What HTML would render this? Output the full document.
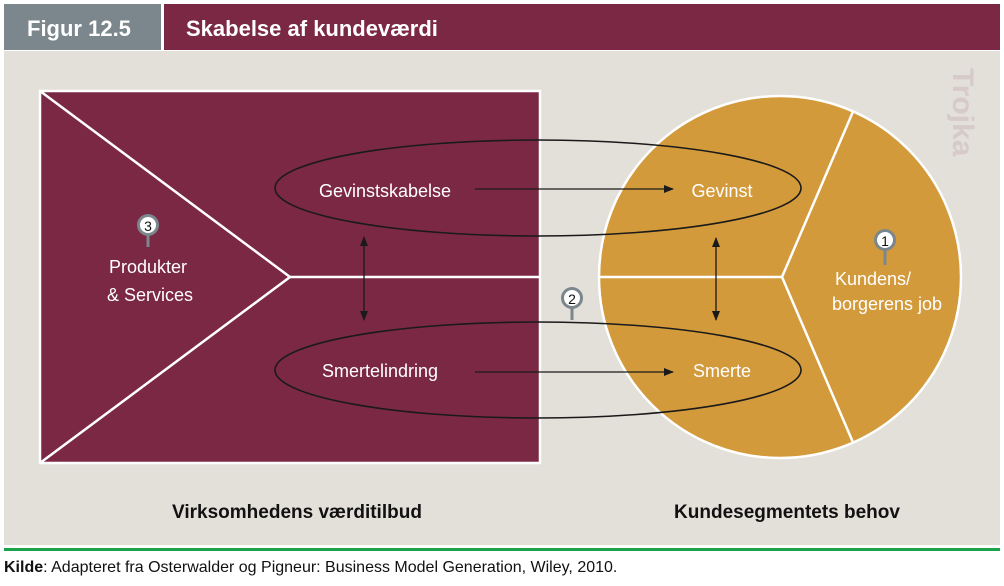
<!DOCTYPE html>
<html><head><meta charset="utf-8"><style>
html,body{margin:0;padding:0;background:#fff;}
svg{display:block;}
text{font-family:"Liberation Sans Narrow","Liberation Sans",sans-serif;}
</style></head><body>
<svg width="1004" height="586" viewBox="0 0 1004 586" xmlns="http://www.w3.org/2000/svg">
<defs>
<marker id="ah" markerWidth="10" markerHeight="8" refX="9" refY="4" orient="auto" markerUnits="userSpaceOnUse">
<path d="M0,0 L10,4 L0,8 Z" fill="#1a1a1a"/></marker>
<marker id="as" markerWidth="10" markerHeight="8" refX="1" refY="4" orient="auto" markerUnits="userSpaceOnUse">
<path d="M10,0 L0,4 L10,8 Z" fill="#1a1a1a"/></marker>
<clipPath id="cc"><circle cx="780" cy="277" r="180"/></clipPath>
</defs>
<rect x="0" y="0" width="1004" height="586" fill="#fff"/>
<rect x="4" y="4" width="157" height="46" fill="#7b868d"/>
<rect x="164" y="4" width="836" height="46" fill="#7b2845"/>
<text x="27" y="36" font-size="22" font-weight="bold" fill="#fff">Figur 12.5</text>
<text x="186" y="36" font-size="22" font-weight="bold" fill="#fff">Skabelse af kundeværdi</text>
<rect x="4" y="51" width="996" height="494" fill="#e3dfd9"/>
<text transform="translate(953,68) rotate(90)" font-size="30" font-weight="bold" fill="#d6cbc8" font-family="Liberation Sans,sans-serif">Trojka</text>
<!-- left rect -->
<rect x="40" y="91" width="500" height="372" fill="#7b2845" stroke="#fff" stroke-width="2.5"/>
<polyline points="40,91 290,277 40,463" fill="none" stroke="#fff" stroke-width="2.5"/>
<line x1="290" y1="277" x2="540" y2="277" stroke="#fff" stroke-width="2.5"/>
<!-- circle -->
<circle cx="780" cy="277" r="181" fill="#d39a3b" stroke="#fff" stroke-width="2.5"/>
<g clip-path="url(#cc)">
<line x1="590" y1="277" x2="782" y2="277" stroke="#fff" stroke-width="2.5"/>
<polyline points="870,72 782,277 870,482" fill="none" stroke="#fff" stroke-width="2.5"/>
</g>
<!-- ellipses -->
<ellipse cx="538" cy="188" rx="263" ry="48" fill="none" stroke="#1a1a1a" stroke-width="1.6"/>
<ellipse cx="538" cy="370" rx="263" ry="48" fill="none" stroke="#1a1a1a" stroke-width="1.6"/>
<line x1="475" y1="189" x2="673" y2="189" stroke="#1a1a1a" stroke-width="1.3" marker-end="url(#ah)"/>
<line x1="475" y1="372" x2="673" y2="372" stroke="#1a1a1a" stroke-width="1.3" marker-end="url(#ah)"/>
<line x1="364" y1="237" x2="364" y2="320" stroke="#1a1a1a" stroke-width="1.3" marker-start="url(#as)" marker-end="url(#ah)"/>
<line x1="716" y1="238" x2="716" y2="320" stroke="#1a1a1a" stroke-width="1.3" marker-start="url(#as)" marker-end="url(#ah)"/>
<!-- pins -->
<g>
<line x1="148" y1="232" x2="148" y2="247" stroke="#7b868d" stroke-width="3"/>
<circle cx="148" cy="225" r="11" fill="#7b868d"/><circle cx="148" cy="225" r="8" fill="#fff"/>
<text x="148" y="231" font-size="14" text-anchor="middle" fill="#111">3</text>
</g>
<g>
<line x1="885" y1="246" x2="885" y2="265" stroke="#7b868d" stroke-width="3"/>
<circle cx="885" cy="240" r="11" fill="#7b868d"/><circle cx="885" cy="240" r="8" fill="#fff"/>
<text x="885" y="246" font-size="14" text-anchor="middle" fill="#111">1</text>
</g>
<g>
<line x1="572" y1="304" x2="572" y2="320" stroke="#7b868d" stroke-width="3"/>
<circle cx="572" cy="298" r="11" fill="#7b868d"/><circle cx="572" cy="298" r="8" fill="#fff"/>
<text x="572" y="304" font-size="14" text-anchor="middle" fill="#111">2</text>
</g>
<!-- labels -->
<g font-size="18" fill="#fff">
<text x="148" y="273" text-anchor="middle">Produkter</text>
<text x="150" y="301" text-anchor="middle">&amp; Services</text>
<text x="385" y="197" text-anchor="middle">Gevinstskabelse</text>
<text x="380" y="377" text-anchor="middle">Smertelindring</text>
<text x="722" y="197" text-anchor="middle">Gevinst</text>
<text x="722" y="377" text-anchor="middle">Smerte</text>
<text x="873" y="285" text-anchor="middle">Kundens/</text>
<text x="887" y="310" text-anchor="middle">borgerens job</text>
</g>
<g font-size="19" font-weight="bold" fill="#111">
<text x="297" y="518" text-anchor="middle">Virksomhedens værditilbud</text>
<text x="787" y="518" text-anchor="middle">Kundesegmentets behov</text>
</g>
<rect x="4" y="548" width="996" height="3" fill="#1aa34a"/>
<text x="4" y="572" font-size="16" fill="#111"><tspan font-weight="bold">Kilde</tspan>: Adapteret fra Osterwalder og Pigneur: Business Model Generation, Wiley, 2010.</text>
</svg>
</body></html>
